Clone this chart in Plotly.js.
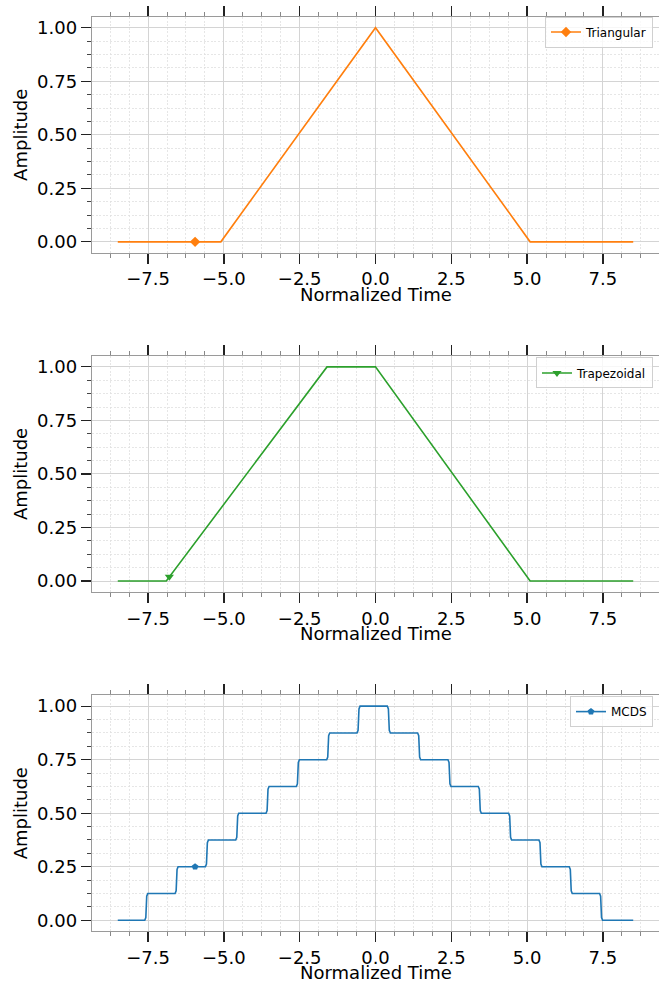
<!DOCTYPE html>
<html>
<head>
<meta charset="utf-8">
<script src="https://cdn.plot.ly/plotly-3.0.1.min.js"></script>
<style>
  html, body { margin: 0; padding: 0; background: #ffffff; overflow: hidden; }
  #chart { width: 659px; height: 983px; }
</style>
</head>
<body>
<div id="chart"></div>
<script>
// ---- Data ----
const triX = [-8.5, -5.1, 0, 5.1, 8.5];
const triY = [0, 0, 1, 0, 0];
const triMarkX = [-5.95];
const triMarkY = [0];

const trapX = [-8.5, -6.9, -1.6, 0, 5.1, 8.5];
const trapY = [0, 0, 1, 1, 0, 0];
const trapMarkX = [-6.8];
const trapMarkY = [0.02];

const mcdsX = [-8.5,
  -7.61, -7.575, -7.545, -7.51,
  -6.61, -6.575, -6.545, -6.51,
  -5.61, -5.575, -5.545, -5.51,
  -4.61, -4.575, -4.545, -4.51,
  -3.61, -3.575, -3.545, -3.51,
  -2.61, -2.575, -2.545, -2.51,
  -1.61, -1.575, -1.545, -1.51,
  -0.61, -0.575, -0.545, -0.51,
  0.39, 0.425, 0.455, 0.49,
  1.39, 1.425, 1.455, 1.49,
  2.39, 2.425, 2.455, 2.49,
  3.39, 3.425, 3.455, 3.49,
  4.39, 4.425, 4.455, 4.49,
  5.39, 5.425, 5.455, 5.49,
  6.39, 6.425, 6.455, 6.49,
  7.39, 7.425, 7.455, 7.49,
  8.5];
const mcdsY = [0,
  0, 0.0125, 0.1125, 0.125,
  0.125, 0.1375, 0.2375, 0.25,
  0.25, 0.2625, 0.3625, 0.375,
  0.375, 0.3875, 0.4875, 0.5,
  0.5, 0.5125, 0.6125, 0.625,
  0.625, 0.6375, 0.7375, 0.75,
  0.75, 0.7625, 0.8625, 0.875,
  0.875, 0.8875, 0.9875, 1,
  1, 0.9875, 0.8875, 0.875,
  0.875, 0.8625, 0.7625, 0.75,
  0.75, 0.7375, 0.6375, 0.625,
  0.625, 0.6125, 0.5125, 0.5,
  0.5, 0.4875, 0.3875, 0.375,
  0.375, 0.3625, 0.2625, 0.25,
  0.25, 0.2375, 0.1375, 0.125,
  0.125, 0.1125, 0.0125, 0,
  0];
const mcdsMarkX = [-5.95];
const mcdsMarkY = [0.25];

const seriesNames = ["Triangular", "Trapezoidal", "MCDS"];
const seriesColors = ["#ff7f0e", "#2ca02c", "#1f77b4"];
const markerSymbols = ["diamond", "triangle-down", "pentagon"];
const xTitle = "Normalized Time";
const yTitle = "Amplitude";

// ---- Build ----
const FONT = "DejaVu Sans, sans-serif";
const lineX = [triX, trapX, mcdsX];
const lineY = [triY, trapY, mcdsY];
const markX = [triMarkX, trapMarkX, mcdsMarkX];
const markY = [triMarkY, trapMarkY, mcdsMarkY];
const markSizes = [8, 8, 7];

const traces = [];
for (let i = 0; i < 3; i++) {
  const sfx = i === 0 ? "" : String(i + 1);
  traces.push({
    x: lineX[i], y: lineY[i], type: "scatter", mode: "lines",
    line: {color: seriesColors[i], width: 1.6},
    xaxis: "x" + sfx, yaxis: "y" + sfx, showlegend: false, hoverinfo: "skip"
  });
  traces.push({
    x: markX[i], y: markY[i], type: "scatter", mode: "lines+markers",
    name: seriesNames[i],
    line: {color: seriesColors[i], width: 1.6},
    marker: {symbol: markerSymbols[i], size: markSizes[i], color: seriesColors[i]},
    xaxis: "x" + sfx, yaxis: "y" + sfx, legend: i === 0 ? "legend" : "legend" + (i + 1)
  });
}

const domains = [[0.7423, 1], [0.3712, 0.6289], [0, 0.2577]];
const legendY = [1.0005, 0.6275, 0.257];

function xAxis(anchor) {
  return {
    anchor: anchor, range: [-9.35, 9.35], tick0: 0, dtick: 2.5, tickformat: ".1f",
    ticks: "outside", ticklen: 10, tickwidth: 1.2, tickcolor: "#222",
    showline: true, linecolor: "#9a9a9a", linewidth: 1.3, mirror: "ticks",
    showgrid: true, gridcolor: "#d4d4d4", gridwidth: 1, zeroline: false,
    tickfont: {family: FONT, size: 18, color: "#000"},
    minor: {dtick: 0.625, tick0: 0, ticks: "outside", ticklen: 4, tickwidth: 1, tickcolor: "#888",
            showgrid: true, gridcolor: "#e0e0e0", griddash: "2px,1.6px", gridwidth: 0.8}
  };
}
function yAxis(anchor, dom) {
  return {
    anchor: anchor, domain: dom, range: [-0.05, 1.05], tick0: 0, dtick: 0.25, tickformat: ".2f",
    ticks: "outside", ticklen: 10, tickwidth: 1.2, tickcolor: "#222",
    showline: true, linecolor: "#9a9a9a", linewidth: 1.3, mirror: true,
    showgrid: true, gridcolor: "#d4d4d4", gridwidth: 1, zeroline: false,
    tickfont: {family: FONT, size: 18, color: "#000"},
    title: {text: yTitle, font: {family: FONT, size: 18, color: "#000"}, standoff: 4},
    minor: {dtick: 0.0625, tick0: 0, ticks: "outside", ticklen: 4, tickwidth: 1, tickcolor: "#444",
            showgrid: true, gridcolor: "#e0e0e0", griddash: "2px,1.6px", gridwidth: 0.8}
  };
}
function legend(y) {
  return {
    x: 0.9894, xanchor: "right", y: y, yanchor: "top",
    bgcolor: "rgba(255,255,255,0.8)", bordercolor: "#d0d0d0", borderwidth: 1,
    font: {family: FONT, size: 12, color: "#000"}
  };
}
function xTitleAnn(dom) {
  return {
    text: xTitle, xref: "paper", x: 0.5, xanchor: "center",
    yref: "paper", y: dom[0], yanchor: "top", yshift: -30, borderpad: 0, showarrow: false,
    font: {family: FONT, size: 18, color: "#000"}
  };
}

const layout = {
  width: 659, height: 983,
  margin: {l: 92, r: 0, t: 17, b: 52},
  paper_bgcolor: "#fff", plot_bgcolor: "#fff",
  showlegend: true,
  xaxis: xAxis("y"), xaxis2: xAxis("y2"), xaxis3: xAxis("y3"),
  yaxis: yAxis("x", domains[0]), yaxis2: yAxis("x2", domains[1]), yaxis3: yAxis("x3", domains[2]),
  legend: legend(legendY[0]), legend2: legend(legendY[1]), legend3: legend(legendY[2]),
  annotations: domains.map(xTitleAnn)
};

Plotly.newPlot("chart", traces, layout, {displayModeBar: false, staticPlot: true});
</script>
</body>
</html>
